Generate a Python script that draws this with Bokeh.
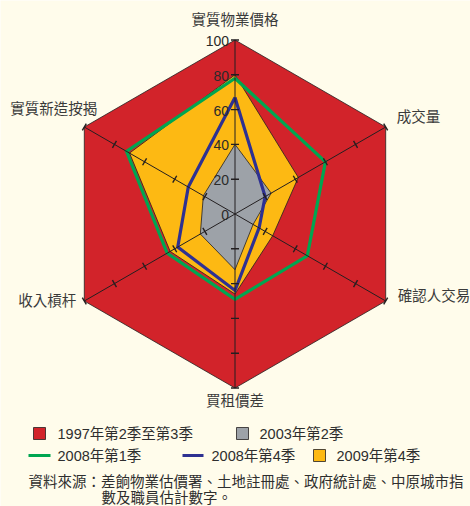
import numpy as np
from bokeh.plotting import figure
from bokeh.models import Range1d
from bokeh.core.properties import value
from bokeh.embed import file_html
from bokeh.resources import INLINE

# ---------------- data ----------------
categories = ["實質物業價格", "成交量", "確認人交易", "買租價差", "收入槓杆", "實質新造按揭"]
s1997 = [100, 100, 100, 100, 100, 100]
s2003q2 = [40, 24, 12, 32, 23, 21]
s2008q1 = [78, 60, 48, 49, 45, 72]
s2008q4 = [67, 20, 16, 44, 38, 31]
s2009q4 = [80, 42, 25, 46, 43, 70]
tick_values = [0, 20, 40, 60, 80, 100]
tick_labels = ["0", "20", "40", "60", "80", "100"]
legend_labels = ["1997年第2季至第3季", "2003年第2季", "2008年第1季", "2008年第4季", "2009年第4季"]
source_lines = ["資料來源：差餉物業估價署、土地註冊處、政府統計處、中原城市指", "數及職員估計數字。"]

# ---------------- layout ----------------
BG = "#FFFCEB"
RED = "#D2232A"
GRAY = "#9DA2A8"
YELLOW = "#FDB913"
GREEN = "#00A651"
BLUE = "#2E3192"
DARK = "#231F20"
TXT = "#3A3A3A"
CJK = "Liberation Sans, Noto Sans CJK TC"

W, H = 470, 506
cx, cy, R = 234.5, 213.5, 174.0
angles = np.deg2rad([90, 30, -30, -90, -150, 150])


def polar(vals):
    v = np.asarray(vals, dtype=float) / 100.0 * R
    return list(cx + v * np.cos(angles)), list(cy - v * np.sin(angles))


p = figure(width=W, height=H, x_range=Range1d(0, W), y_range=Range1d(H, 0),
           output_backend="svg", toolbar_location=None, min_border=0)
p.axis.visible = False
p.grid.visible = False
p.outline_line_color = None
p.background_fill_color = BG
p.border_fill_color = BG

# polygons / lines
x, y = polar(s1997)
p.patch(x, y, fill_color=RED, line_color=DARK, line_width=0.8)
x, y = polar(s2009q4)
p.patch(x, y, fill_color=YELLOW, line_color=DARK, line_width=0.8)
x, y = polar(s2008q1)
p.line(x + x[:1], y + y[:1], line_color=GREEN, line_width=3.2, line_join="miter")
x, y = polar(s2003q2)
p.patch(x, y, fill_color=GRAY, line_color=DARK, line_width=0.8)
x, y = polar(s2008q4)
p.line(x + x[:1], y + y[:1], line_color=BLUE, line_width=3.2, line_join="miter")

# axes
vx, vy = polar([100] * 6)
p.segment([cx] * 6, [cy] * 6, vx, vy, line_color=DARK, line_width=1)

# ticks
tx0, ty0, tx1, ty1 = [], [], [], []
half = 4.0
for a in angles:
    nx, ny = np.sin(a), np.cos(a)
    for t in tick_values[1:]:
        r = t / 100.0 * R
        px_, py_ = cx + r * np.cos(a), cy - r * np.sin(a)
        tx0.append(px_ - half * nx); ty0.append(py_ - half * ny)
        tx1.append(px_ + half * nx); ty1.append(py_ + half * ny)
p.segment(tx0, ty0, tx1, ty1, line_color=DARK, line_width=1.4)

# tick labels on the top axis
p.text([cx - 6] * len(tick_values), [cy - t / 100.0 * R + 1 for t in tick_values], text=tick_labels,
       text_align="right", text_baseline="middle", text_font=value("Liberation Sans"),
       text_font_size="14px", text_color="#2A2A2A")

# category labels
offsets = [(0, -22, "center"), (11, -12, "left"), (12, -7, "left"),
           (0, 11, "center"), (-8, -2, "right"), (13, -19.5, "right")]
for name, X, Y, (dx, dy, al) in zip(categories, vx, vy, offsets):
    p.text([X + dx], [Y + dy], text=[name], text_align=al, text_baseline="middle",
           text_font=value("Noto Sans CJK TC"), text_font_size="14.5px", text_color=TXT)

# legend
lg_font = "14.5px"
sq = [(39, 433, RED), (242, 433, GRAY), (319, 455, YELLOW)]
p.rect([s[0] for s in sq], [s[1] for s in sq], width=12, height=12,
       fill_color=[s[2] for s in sq], line_color=DARK, line_width=0.8)
p.segment([28, 182], [455, 455], [50, 203], [455, 455], line_color=[GREEN, BLUE], line_width=3)
lx = [57, 259, 57, 211, 336]
ly = [433, 433, 455, 455, 455]
p.text(lx, ly, text=legend_labels, text_align="left", text_baseline="middle",
       text_font=value(CJK), text_font_size=lg_font, text_color="#2E2E2E")

# source
p.text([28, 101], [480, 496], text=source_lines, text_align="left", text_baseline="middle",
       text_font=value("Noto Sans CJK TC"), text_font_size="14.5px", text_color="#2E2E2E")

html = file_html(p, INLINE)
html = html.replace("<body>", '<body style="background-color:%s;">' % BG, 1)
open("out.html", "w").write(html)
